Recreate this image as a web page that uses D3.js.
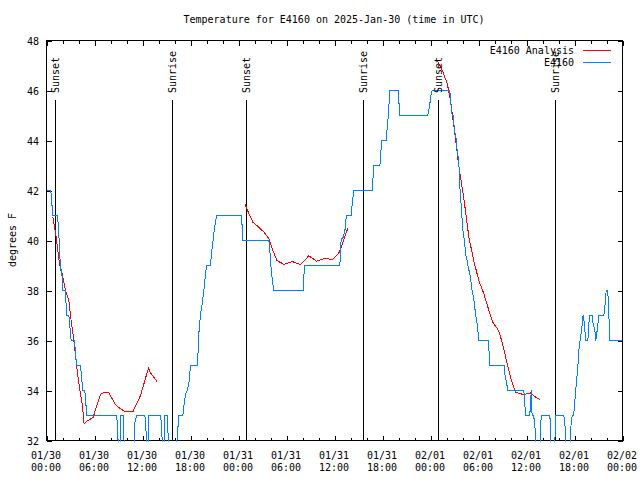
<!DOCTYPE html>
<html><head><meta charset="utf-8">
<script src="https://cdn.jsdelivr.net/npm/d3@7"></script>
<style>
body{margin:0;background:#fff}
svg text{font-family:"DejaVu Sans Mono","Liberation Mono",monospace;font-size:10px;fill:#000}
</style>
</head><body>
<svg id="c" width="640" height="480"></svg>
<script>
const titleText = "Temperature for E4160 on 2025-Jan-30 (time in UTC)";
const yAxisLabel = "degrees F";
const yTickValues = [32,34,36,38,40,42,44,46,48];
const xTickHours = [0,6,12,18,24,30,36,42,48,54,60,66,72];
const xTickDates = ["01/30","01/30","01/30","01/30","01/31","01/31","01/31","01/31","02/01","02/01","02/01","02/01","02/02"];
const xTickTimes = ["00:00","06:00","12:00","18:00","00:00","06:00","12:00","18:00","00:00","06:00","12:00","18:00","00:00"];
const xMinorHours = [2,4,8,10,14,16,20,22,26,28,32,34,38,40,44,46,50,52,56,58,62,64,68,70];
const sunNames = ["Sunset","Sunrise","Sunset","Sunrise","Sunset","Sunrise"];
const sunHours = [1.19,15.81,25.06,39.69,49.06,63.69];
const seriesNames = ["E4160 Analysis","E4160"];
const seriesColors = ["#ff0000","#0080ff"];

// E4160 Analysis (hours since 2025-01-30 00:00 UTC, degrees F)
const analysisSeg1 = [[0.79,40.93],[1.125,40.33],[1.625,39.07],[1.96,38.67],[2.375,38.0],[2.79,37.6],[3.125,36.67],[3.42,36.0],[3.83,34.8],[4.17,34.0],[4.46,33.47],[4.7,32.67],[4.95,32.75],[5.83,32.93],[6.75,33.85],[7.3,33.93],[7.8,33.9],[8.6,33.45],[9.0,33.33],[9.8,33.15],[10.8,33.15],[11.75,33.8],[12.75,34.9],[13.0,34.7],[13.8,34.37]];
const analysisSeg2 = [[24.8,41.47],[25.3,41.07],[25.8,40.73],[26.3,40.6],[27.2,40.33],[27.8,40.07],[28.3,39.6],[28.8,39.2],[29.7,39.04],[30.7,39.16],[31.75,39.04],[32.8,39.39],[33.75,39.17],[34.9,39.3],[35.7,39.23],[36.5,39.47],[37.0,39.87],[37.4,40.27],[37.7,40.5]];
const analysisSeg3 = [[48.8,47.2],[49.3,46.95],[50.1,46.27],[50.5,45.6],[51.1,44.13],[51.5,43.07],[52.2,41.6],[52.8,40.13],[53.4,39.2],[54.04,38.4],[54.67,37.87],[55.3,37.2],[55.8,36.73],[56.5,36.4],[56.96,35.93],[57.4,35.33],[58.0,34.53],[58.6,33.93],[59.6,33.84],[60.5,33.9],[61.0,33.76],[61.7,33.63]];

// E4160 observations
const observed = [[0,42],[0.54,42],[0.79,41],[1.33,41],[1.46,40.7],[1.63,39.7],[1.75,38.8],[1.9,38.8],[2.04,38],[2.375,38],[2.5,37],[2.8,37],[3.08,36],[3.5,36],[3.75,35],[4.25,35],[4.54,34],[4.79,34],[5.04,33],[8.75,33],[8.85,32.7],[9.04,31.3],[9.2,31.3],[9.25,33],[9.58,33],[9.65,32.3],[9.79,31.3],[11.0,31.3],[11.04,32.7],[11.25,33],[12.29,33],[12.4,32.7],[12.58,31.3],[12.7,31.3],[12.79,33],[14.25,33],[14.35,32.7],[14.58,31.3],[14.7,31.3],[14.75,33],[15.08,33],[15.15,32.7],[15.29,31.3],[16.15,31.3],[16.54,33],[17.04,33],[17.16,33.33],[17.38,33.87],[17.58,34],[17.8,34.27],[18.0,35],[18.83,35],[18.92,35.33],[19.04,36.27],[19.25,37.07],[19.46,37.47],[19.67,38],[19.88,38.67],[20.0,39],[20.5,39],[20.58,39.33],[20.71,39.73],[20.83,40.03],[21.0,40.53],[21.13,40.73],[21.25,41],[24.33,41],[24.45,40.6],[24.54,40],[27.8,40],[27.92,39.6],[28.0,39.2],[28.13,38.67],[28.25,38.4],[28.41,38],[32.08,38],[32.25,39],[36.67,39],[36.83,40.03],[37.08,40.13],[37.38,40.53],[37.46,41],[38.08,41],[38.21,41.47],[38.41,42],[40.7,42],[40.79,42.4],[40.92,43],[41.67,43],[41.75,43.27],[41.88,44],[42.5,44],[42.58,44.53],[42.71,44.93],[42.92,46],[43.96,46],[44.04,45.6],[44.16,45],[47.66,45],[47.79,45.2],[47.92,45.47],[48.08,45.87],[48.2,46],[50.4,46],[50.5,45.73],[50.63,45.07],[50.83,45],[50.92,44.67],[51.04,44.33],[51.21,44.07],[51.33,43.6],[51.54,43.2],[51.6,42.53],[51.67,42.13],[51.75,41.8],[51.88,41.2],[51.96,40.8],[52.08,40.33],[52.25,40],[52.38,39.47],[52.58,39.2],[52.71,38.93],[52.92,38.67],[53.2,38],[53.4,37.67],[53.63,37.07],[53.83,36.67],[54.04,36],[55.2,36],[55.29,35.73],[55.41,35],[57.2,35],[57.29,34.67],[57.46,34.4],[57.67,34],[59.67,34],[59.79,33.47],[59.88,33],[60.41,33],[60.5,33.5],[60.6,34],[60.7,33],[60.9,33],[61.0,32.7],[61.13,32.27],[61.29,31.3],[61.67,31.3],[61.83,33],[62.9,33],[63.0,32.7],[63.1,31.3],[63.5,31.3],[63.63,33],[64.67,33],[64.8,32.7],[64.96,31.3],[65.4,31.3],[65.58,32.73],[65.71,33],[65.9,33],[66.0,33.47],[66.13,33.87],[66.25,34.4],[66.4,34.8],[66.46,35.2],[66.58,35.73],[66.75,36.13],[66.88,36.4],[67.0,36.8],[67.08,37],[67.25,36.67],[67.38,36],[67.67,36],[67.79,36.67],[67.92,37],[68.2,37],[68.33,36.67],[68.54,36.4],[68.67,36],[68.83,36.4],[69.04,37],[69.67,37],[69.79,37.33],[69.96,38],[70.16,38],[70.29,37.07],[70.41,36],[72,36]];

const W = 640, H = 480;
const L = 46, R = 622, T = 40, B = 440;
const x = d3.scaleLinear().domain([0,72]).range([L,R]);
const y = d3.scaleLinear().domain([32,48]).range([B,T]);

const svg = d3.select("#c");
svg.append("rect").attr("width",W).attr("height",H).attr("fill","#fff");
const g = svg.append("g").attr("transform","translate(0.5,0.5)");

// title
svg.append("text").attr("x",(L+R)/2).attr("y",23).attr("text-anchor","middle").text(titleText);
// y label
svg.append("text").attr("transform",`translate(12,${(T+B)/2}) rotate(-90)`)
  .attr("text-anchor","middle").attr("dy","0.35em").text(yAxisLabel);

const clean = sel => sel.select(".domain").remove();
const majorLen = 5, minorLen = 3;

// axes
const gl = g.append("g").attr("transform",`translate(${L},0)`)
  .call(d3.axisLeft(y).tickValues(yTickValues).tickSize(-majorLen).tickPadding(7).tickFormat(d3.format("d")));
gl.call(clean);
gl.selectAll("text").attr("font-family",null).attr("font-size",null).attr("dy","0.35em").attr("x",-7.5);
const gr = g.append("g").attr("transform",`translate(${R},0)`)
  .call(d3.axisRight(y).tickValues(yTickValues).tickSize(-majorLen).tickFormat(""));
gr.call(clean);
const gb = g.append("g").attr("transform",`translate(0,${B})`)
  .call(d3.axisBottom(x).tickValues(xTickHours).tickSize(-majorLen).tickFormat(""));
gb.call(clean);
const gbm = g.append("g").attr("transform",`translate(0,${B})`)
  .call(d3.axisBottom(x).tickValues(xMinorHours).tickSize(-minorLen).tickFormat(""));
gbm.call(clean);
const gt = g.append("g").attr("transform",`translate(0,${T})`)
  .call(d3.axisTop(x).tickValues(xTickHours).tickSize(-majorLen).tickFormat(""));
gt.call(clean);
const gtm = g.append("g").attr("transform",`translate(0,${T})`)
  .call(d3.axisTop(x).tickValues(xMinorHours).tickSize(-minorLen).tickFormat(""));
gtm.call(clean);
g.selectAll(".tick line").attr("stroke","#000").attr("shape-rendering","crispEdges");

// x labels (two lines)
const xl = svg.append("g");
xTickHours.forEach((h,i)=>{
  const t = xl.append("text").attr("text-anchor","middle");
  t.append("tspan").attr("x",x(h)).attr("y",459).text(xTickDates[i]);
  t.append("tspan").attr("x",x(h)).attr("y",471).text(xTickTimes[i]);
});

// border
g.append("rect").attr("x",L).attr("y",T).attr("width",R-L).attr("height",B-T)
  .attr("fill","none").attr("stroke","#000").attr("shape-rendering","crispEdges");

// sun lines
const sunTop = T + 59;
sunHours.forEach((h,i)=>{
  const px = Math.floor(x(h));
  g.append("line").attr("x1",px).attr("x2",px).attr("y1",sunTop).attr("y2",B)
    .attr("stroke","#000").attr("shape-rendering","crispEdges");
  svg.append("text").attr("transform",`translate(${px+0.5},${sunTop-6}) rotate(-90)`)
    .attr("dy","0.35em").attr("text-anchor","start").text(sunNames[i]);
});

// clip
svg.append("clipPath").attr("id","clip").append("rect")
  .attr("x",L).attr("y",T).attr("width",R-L).attr("height",B-T+1);
const data = g.append("g").attr("clip-path","url(#clip)");
const line = d3.line().x(d=>x(d[0])).y(d=>y(d[1]));

[analysisSeg1,analysisSeg2,analysisSeg3].forEach(seg=>{
  data.append("path").attr("d",line(seg)).attr("fill","none")
    .attr("stroke",seriesColors[0]).attr("stroke-width",1).attr("shape-rendering","crispEdges");
});
data.append("path").attr("d",line(observed)).attr("fill","none")
  .attr("stroke",seriesColors[1]).attr("stroke-width",1).attr("shape-rendering","crispEdges");

// legend
seriesNames.forEach((n,i)=>{
  const ly = 50 + i*12;
  svg.append("text").attr("x",574).attr("y",ly).attr("dy","0.35em").attr("text-anchor","end").text(n);
  g.append("line").attr("x1",582).attr("x2",610).attr("y1",ly).attr("y2",ly)
    .attr("stroke",seriesColors[i]).attr("shape-rendering","crispEdges");
});
</script>
</body></html>
